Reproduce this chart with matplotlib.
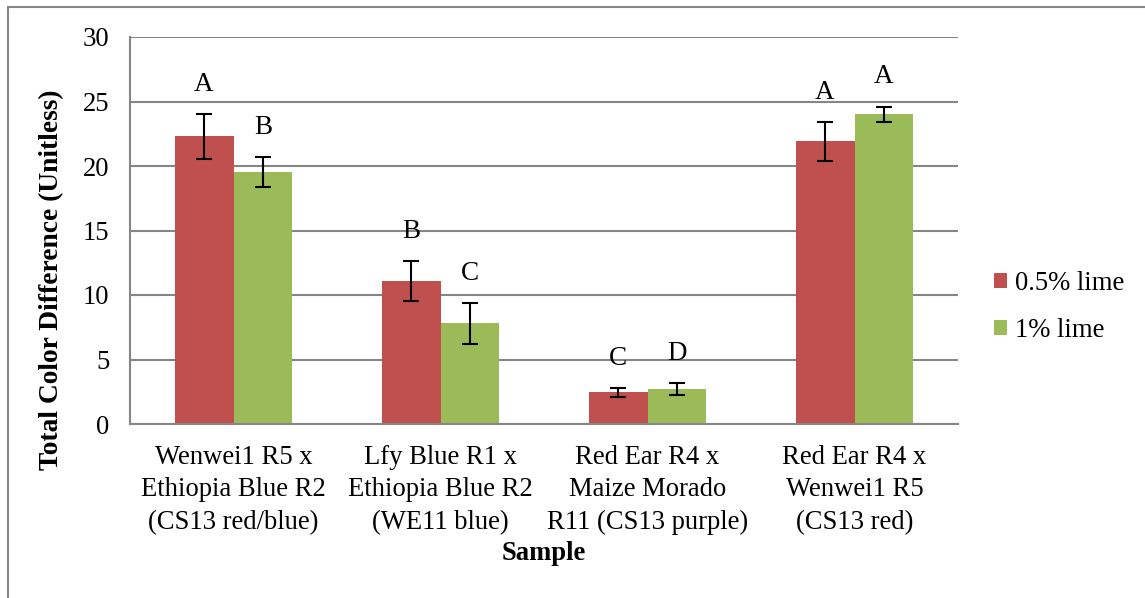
import numpy as np
import matplotlib.pyplot as plt
from matplotlib.patches import Rectangle

# 数据
samples = ['Wenwei1 R5 x\nEthiopia Blue R2\n(CS13 red/blue)',
           'Lfy Blue R1 x\nEthiopia Blue R2\n(WE11 blue)',
           'Red Ear R4 x\nMaize Morado\nR11 (CS13 purple)',
           'Red Ear R4 x\nWenwei1 R5\n(CS13 red)']
lime05 = [22.3, 11.1, 2.45, 21.9]
lime05_err = [1.75, 1.55, 0.33, 1.5]
lime05_letters = ['A', 'B', 'C', 'A']
lime1 = [19.55, 7.8, 2.7, 24.0]
lime1_err = [1.15, 1.6, 0.45, 0.6]
lime1_letters = ['B', 'C', 'D', 'A']
series_names = ['0.5% lime', '1% lime']
yticks = [0, 5, 10, 15, 20, 25, 30]

plt.rcParams['font.family'] = ['Liberation Serif', 'DejaVu Serif']
plt.rcParams['font.size'] = 19.2

red = '#C0504D'
green = '#9BBB59'
grid_c = '#868686'

fig = plt.figure(figsize=(11.45, 5.98), dpi=100)
ax = fig.add_axes([130 / 1145, 1 - 424 / 598, 828 / 1145, 387 / 598])

x = np.arange(len(samples))
w = 0.285
ax.bar(x - w / 2, lime05, w, color=red, label=series_names[0], zorder=2)
ax.bar(x + w / 2, lime1, w, color=green, label=series_names[1], zorder=2)
ax.errorbar(x - w / 2, lime05, yerr=lime05_err, fmt='none', ecolor='black',
            elinewidth=1.5, capsize=6, capthick=1.5, zorder=3)
ax.errorbar(x + w / 2, lime1, yerr=lime1_err, fmt='none', ecolor='black',
            elinewidth=1.5, capsize=6, capthick=1.5, zorder=3)

for i in range(len(samples)):
    ax.text(x[i] - w / 2, lime05[i] + lime05_err[i] + 2.3, lime05_letters[i],
            ha='center', va='center', fontsize=19.5)
    ax.text(x[i] + w / 2, lime1[i] + lime1_err[i] + 2.3, lime1_letters[i],
            ha='center', va='center', fontsize=19.5)

ax.set_xlim(-0.5, 3.5)
ax.set_ylim(0, 30)
ax.set_yticks(yticks)
ax.yaxis.grid(True, color=grid_c, linewidth=1.5, zorder=0)
ax.set_axisbelow(True)
ax.set_xticks(x)
ax.set_xticklabels(samples, linespacing=1.4)
ax.tick_params(length=0)
ax.tick_params(axis='x', pad=15)
ax.tick_params(axis='y', pad=15)
for s in ['top', 'right']:
    ax.spines[s].set_visible(False)
for s in ['left', 'bottom']:
    ax.spines[s].set_color(grid_c)
    ax.spines[s].set_linewidth(1.5)

ax.set_ylabel('Total Color Difference (Unitless)', fontweight='bold', fontsize=19.8)
ax.yaxis.set_label_coords(-78 / 828, (424 - 280) / 387)
ax.set_xlabel('Sample', fontweight='bold')
ax.xaxis.set_label_coords(0.5, -(553 - 424) / 387)
ax.xaxis.label.set_va('center')
ax.yaxis.label.set_va('center')

ax.legend(loc='center left', bbox_to_anchor=(970 / 1145, 1 - 307 / 598),
          bbox_transform=fig.transFigure, frameon=False,
          handlelength=0.5, handleheight=0.5, handletextpad=0.3,
          labelspacing=0.85, fontsize=19.2)

fig.patches.append(Rectangle((8 / 1145, -0.1), 1.2, 1 - 7 / 598 + 0.1,
                             transform=fig.transFigure, fill=False,
                             edgecolor=grid_c, linewidth=1.5))

fig.savefig('out.png', dpi=100)
